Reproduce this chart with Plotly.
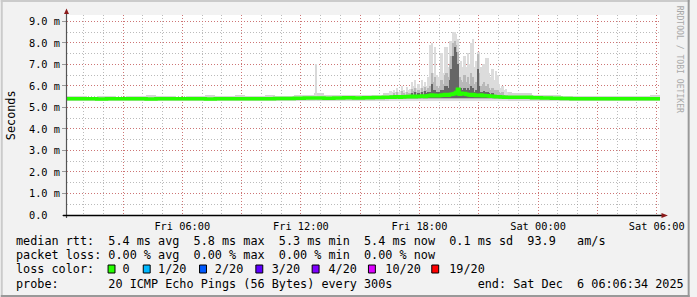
import plotly.graph_objects as go
import pandas as pd

# ---------------- data ----------------
# calm background: one sample every 30 min, Fri 00:10 .. Sat 06:10 (values in ms)
CALM_T0 = "2025-12-05 00:10"
calm_median = [5.40, 5.41, 5.40, 5.39, 5.40, 5.40, 5.41, 5.40, 5.39, 5.40,
               5.40, 5.41, 5.40, 5.40, 5.39, 5.40, 5.41, 5.40, 5.40, 5.41,
               5.41, 5.42, 5.42, 5.43, 5.44, 5.44, 5.43, 5.44, 5.45, 5.44,
               5.45, 5.46, 5.47, 5.48, 5.50, 5.52, 5.55, 5.58, 5.56, 5.52,
               5.52, 5.50, 5.50, 5.49, 5.48, 5.48, 5.47, 5.45, 5.44, 5.43,
               5.42, 5.41, 5.40, 5.40, 5.40, 5.41, 5.40, 5.40, 5.40, 5.40, 5.40]
calm_smoke_hi = [5.55, 5.55, 5.50, 5.55, 5.55, 5.50, 5.55, 5.55, 5.60, 5.55,
                 5.55, 5.50, 5.55, 5.55, 5.60, 5.55, 5.55, 5.60, 5.55, 5.55,
                 5.60, 5.55, 5.55, 5.60, 5.60, 5.65, 5.60, 5.60, 5.60, 5.60,
                 5.60, 5.60, 5.65, 5.70, 5.70, 5.70, 5.70, 5.70, 5.70, 5.70,
                 5.70, 5.70, 5.70, 5.70, 5.70, 5.65, 5.65, 5.60, 5.60, 5.60,
                 5.55, 5.55, 5.55, 5.55, 5.55, 5.55, 5.55, 5.55, 5.55, 5.60, 5.55]
SMOKE_FLOOR = 5.3
MID_FLOOR = 5.38
DARK_FLOOR = 5.45

# burst period: one sample every 5 min, Fri 16:30 .. 22:25
BURST_T0 = "2025-12-05 16:30"
burst_median = [5.48, 5.49, 5.48, 5.50, 5.49, 5.50, 5.48, 5.50, 5.49, 5.50, 5.51, 5.50,
                5.50, 5.52, 5.51, 5.50, 5.52, 5.51, 5.52, 5.53, 5.52, 5.51, 5.53, 5.54,
                5.56, 5.58, 5.55, 5.57, 5.56, 5.55, 5.56, 5.58, 5.57, 5.60, 5.58, 5.57,
                5.60, 5.62, 5.63, 5.65, 5.70, 5.85, 5.62, 5.66, 5.64, 5.65, 5.62, 5.60,
                5.58, 5.57, 5.60, 5.58, 5.56, 5.57, 5.56, 5.58, 5.55, 5.56, 5.55, 5.54,
                5.53, 5.52, 5.52, 5.51, 5.50, 5.50, 5.50, 5.49, 5.49, 5.48, 5.48, 5.48]
burst_light = [5.75, 5.7, 5.8, 5.65, 5.9, 5.7, 5.75, 6.0, 5.8, 5.7, 5.95, 5.8,
               5.85, 6.2, 6.0, 6.3, 5.9, 6.1, 5.9, 6.3, 6.0, 6.2, 6.0, 6.4,
               7.9, 8.0, 6.6, 7.8, 6.5, 6.4, 6.6, 7.55, 6.6, 7.8, 7.8, 6.9,
               8.1, 8.1, 8.5, 8.5, 8.4, 8.2, 7.0, 7.15, 6.9, 7.4, 6.9, 7.55,
               7.0, 8.0, 8.2, 6.9, 7.15, 7.6, 7.6, 6.9, 7.0, 7.0, 7.3, 7.3,
               6.6, 6.4, 6.8, 6.3, 6.7, 6.5, 6.1, 5.9, 6.0, 5.8, 5.85, 5.7]
burst_mid = [5.6, 5.6, 5.65, 5.6, 5.7, 5.6, 5.6, 5.75, 5.65, 5.6, 5.7, 5.65,
             5.65, 5.85, 5.75, 5.9, 5.7, 5.8, 5.7, 5.9, 5.75, 5.95, 5.8, 5.9,
             6.0, 6.6, 6.2, 6.4, 6.0, 5.9, 6.0, 6.3, 6.1, 6.5, 6.6, 6.4,
             7.0, 7.4, 8.0, 8.1, 7.9, 7.6, 6.4, 6.3, 6.2, 6.5, 6.2, 6.4,
             6.1, 6.6, 6.4, 6.1, 6.2, 7.5, 6.6, 6.0, 6.1, 6.2, 6.0, 6.1,
             5.9, 5.8, 5.9, 5.8, 5.8, 5.8, 5.7, 5.65, 5.7, 5.6, 5.6, 5.6]
burst_dark = [5.5, 5.5, 5.55, 5.5, 5.55, 5.5, 5.5, 5.6, 5.55, 5.5, 5.55, 5.55,
              5.55, 5.65, 5.6, 5.7, 5.6, 5.65, 5.6, 5.7, 5.6, 5.75, 5.65, 5.7,
              5.7, 6.1, 5.8, 5.8, 5.7, 5.7, 5.7, 5.8, 5.8, 6.0, 6.0, 5.9,
              6.3, 6.8, 7.4, 7.8, 7.6, 7.0, 5.9, 5.9, 5.8, 5.9, 5.8, 5.9,
              5.8, 6.0, 5.9, 5.7, 5.8, 6.8, 6.0, 5.7, 5.7, 5.75, 5.7, 5.7,
              5.65, 5.6, 5.65, 5.6, 5.6, 5.6, 5.55, 5.5, 5.55, 5.5, 5.5, 5.5]

extra_spike_times = ["2025-12-05 12:45"]
extra_spike_tops = [7.0]

x_tick_times = ["2025-12-05 03:00", "2025-12-05 06:00", "2025-12-05 09:00",
                "2025-12-05 12:00", "2025-12-05 15:00", "2025-12-05 18:00",
                "2025-12-05 21:00", "2025-12-06 00:00", "2025-12-06 03:00",
                "2025-12-06 06:00"]
x_tick_labels = ["", "Fri 06:00", "", "Fri 12:00", "", "Fri 18:00", "",
                 "Sat 00:00", "", "Sat 06:00"]
y_tick_vals = [0, 1, 2, 3, 4, 5, 6, 7, 8, 9]
y_tick_labels = ["0.0  ", "1.0 m", "2.0 m", "3.0 m", "4.0 m", "5.0 m",
                 "6.0 m", "7.0 m", "8.0 m", "9.0 m"]

legend_lines = [
    "median rtt:  5.4 ms avg  5.8 ms max  5.3 ms min  5.4 ms now  0.1 ms sd  93.9   am/s",
    "packet loss: 0.00 % avg  0.00 % max  0.00 % min  0.00 % now",
    "loss color:    0    1/20    2/20    3/20    4/20    10/20    19/20",
    "probe:       20 ICMP Echo Pings (56 Bytes) every 300s            end: Sat Dec  6 06:06:34 2025",
]
loss_colors = ["#26ff00", "#00b8ff", "#0059ff", "#5e00ff", "#7e00ff", "#dd00ff", "#ff0000"]
loss_square_cols = [13, 18, 26, 34, 42, 50, 59]

# ---------------- layout constants ----------------
W, H = 697, 297
ML, MR, MT, MB = 67, 30, 15, 82
PW, PH = W - ML - MR, H - MT - MB
MONO = "DejaVu Sans Mono"
CHAR_W = 7.12
LEG_FS = 11.8
AX_FS = 10.3


def px(x):
    return (x - ML) / PW


def py(y):
    return (H - MB - y) / PH


calm_t = pd.date_range(CALM_T0, periods=len(calm_median), freq="30min")
burst_t = pd.date_range(BURST_T0, periods=len(burst_median), freq="5min")
burst_end = burst_t[-1] + pd.Timedelta("5min")

fig = go.Figure()

# calm smoke band
fig.add_trace(go.Bar(x=calm_t, y=[h - SMOKE_FLOOR for h in calm_smoke_hi], base=SMOKE_FLOOR,
                     width=[30 * 60 * 1000] * len(calm_t), offset=0,
                     marker=dict(color="#d4d4d4", line=dict(width=0))))
# burst smoke layers
for vals, col, floor in [(burst_light, "#dcdcdc", SMOKE_FLOOR),
                         (burst_mid, "#b8b8b8", MID_FLOOR),
                         (burst_dark, "#666666", DARK_FLOOR)]:
    fig.add_trace(go.Bar(x=burst_t, y=[max(v - floor, 0) for v in vals], base=floor,
                         width=[5 * 60 * 1000] * len(burst_t), offset=0,
                         marker=dict(color=col, line=dict(width=0))))
fig.add_trace(go.Bar(x=pd.to_datetime(extra_spike_times),
                     y=[v - SMOKE_FLOOR for v in extra_spike_tops], base=SMOKE_FLOOR,
                     width=[3 * 60 * 1000] * len(extra_spike_times), offset=0,
                     marker=dict(color="#d8d8d8", line=dict(width=0))))

# median line (merge calm + burst)
pts = [(t, v) for t, v in zip(calm_t, calm_median) if t < burst_t[0] or t >= burst_end]
pts += list(zip(burst_t, burst_median))
pts.sort(key=lambda p: p[0])
fig.add_trace(go.Scatter(x=[p[0] for p in pts], y=[p[1] for p in pts], mode="lines",
                         line=dict(color="#26ff00", width=3.5, shape="hv")))

MAJ = "rgba(210,100,100,0.8)"
MIN = "rgba(150,150,150,0.65)"
DASH = "1px,2px"

fig.update_layout(
    width=W, height=H, margin=dict(l=ML, r=MR, t=MT, b=MB),
    paper_bgcolor="#f2f2f2", plot_bgcolor="#ffffff",
    barmode="overlay", bargap=0, showlegend=False, hovermode=False,
    font=dict(family=MONO, color="#000000"),
    xaxis=dict(type="date", range=["2025-12-05 00:10", "2025-12-06 06:10"],
               tickmode="array", tickvals=x_tick_times, ticktext=x_tick_labels,
               tickfont=dict(family=MONO, size=AX_FS, color="#000"),
               ticklabelstandoff=4,
               showgrid=True, gridcolor=MAJ, griddash=DASH, gridwidth=1,
               ticks="", showline=False, zeroline=False,
               minor=dict(tickmode="linear", tick0="2025-12-05 00:00", dtick=3600000,
                          showgrid=True, gridcolor=MIN, griddash=DASH, gridwidth=1)),
    yaxis=dict(range=[0, 9.3], tickmode="array", tickvals=y_tick_vals,
               ticktext=[t.replace(" ", "\u00a0") for t in y_tick_labels],
               tickfont=dict(family=MONO, size=AX_FS, color="#000"),
               showgrid=True, gridcolor=MAJ, griddash=DASH, gridwidth=1,
               ticks="outside", ticklen=4, tickcolor="#999999", showline=False, zeroline=False,
               minor=dict(tickmode="linear", tick0=0, dtick=0.5,
                          showgrid=True, gridcolor=MIN, griddash=DASH, gridwidth=1)),
)

shapes = []
# axis lines
shapes.append(dict(type="line", xref="paper", yref="paper", x0=px(66.5), x1=px(66.5),
                   y0=py(218), y1=py(13), line=dict(color="#555555", width=1.2)))
shapes.append(dict(type="line", xref="paper", yref="paper", x0=px(63), x1=px(669),
                   y0=py(215.5), y1=py(215.5), line=dict(color="#000000", width=1.4)))
# arrows
shapes.append(dict(type="path", xref="paper", yref="paper",
                   path=f"M {px(66.5)} {py(8.5)} L {px(64)} {py(14)} L {px(69)} {py(14)} Z",
                   fillcolor="#8b1a1a", line=dict(width=0)))
shapes.append(dict(type="path", xref="paper", yref="paper",
                   path=f"M {px(675)} {py(215.5)} L {px(668.5)} {py(213)} L {px(668.5)} {py(218)} Z",
                   fillcolor="#8b1a1a", line=dict(width=0)))
# image border
shapes.append(dict(type="rect", xref="paper", yref="paper", x0=px(0), x1=px(W), y0=py(0), y1=py(2),
                   fillcolor="#cbcbcb", line=dict(width=0)))
shapes.append(dict(type="rect", xref="paper", yref="paper", x0=px(0), x1=px(2), y0=py(0), y1=py(H),
                   fillcolor="#cbcbcb", line=dict(width=0)))
shapes.append(dict(type="rect", xref="paper", yref="paper", x0=px(0), x1=px(W), y0=py(H - 2), y1=py(H),
                   fillcolor="#999999", line=dict(width=0)))
shapes.append(dict(type="rect", xref="paper", yref="paper", x0=px(W - 2), x1=px(W), y0=py(0), y1=py(H),
                   fillcolor="#999999", line=dict(width=0)))

annotations = []
LEG_X = 15.5
line_y = [241, 255, 269, 283.5]
for txt, yy in zip(legend_lines, line_y):
    annotations.append(dict(text=txt.replace(" ", "\u00a0"), xref="paper", yref="paper",
                            x=px(LEG_X), y=py(yy), xanchor="left", yanchor="middle",
                            showarrow=False, borderpad=0, borderwidth=0,
                            font=dict(family=MONO, size=LEG_FS, color="#000")))
for col, c in zip(loss_colors, loss_square_cols):
    x0 = LEG_X + 0.5 + c * CHAR_W
    shapes.append(dict(type="rect", xref="paper", yref="paper",
                       x0=px(x0), x1=px(x0 + 7), y0=py(273), y1=py(265),
                       fillcolor=col, line=dict(color="#000000", width=1)))

annotations.append(dict(text="Seconds", xref="paper", yref="paper", x=px(10.5), y=py(115),
                        xanchor="center", yanchor="middle", textangle=-90, showarrow=False,
                        borderpad=0, borderwidth=0,
                        font=dict(family=MONO, size=LEG_FS, color="#000")))
annotations.append(dict(text="RRDTOOL\u00a0/\u00a0TOBI\u00a0OETIKER", xref="paper", yref="paper",
                        x=px(687.5), y=py(59), xanchor="center", yanchor="middle", textangle=90,
                        showarrow=False, borderpad=0, borderwidth=0,
                        font=dict(family=MONO, size=8.1, color="#a8a8a8")))

fig.update_layout(shapes=shapes, annotations=annotations)
fig.write_html("out.html")
